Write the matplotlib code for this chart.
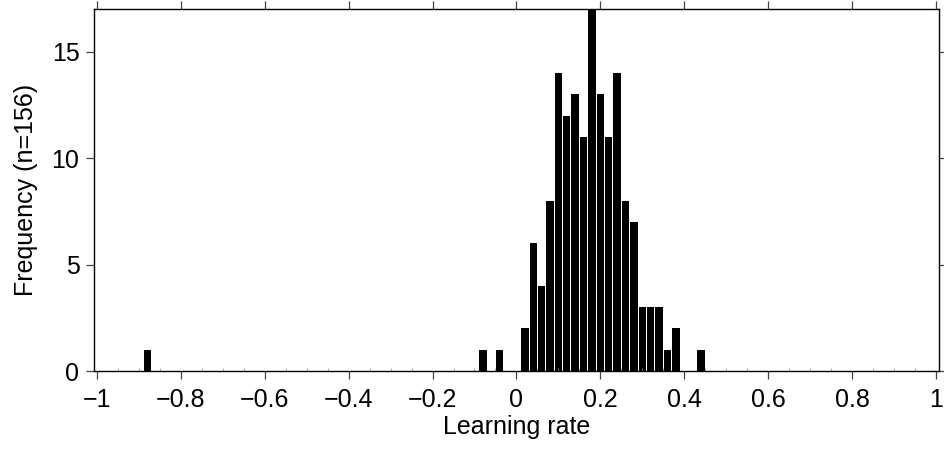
import numpy as np
import matplotlib
matplotlib.use("Agg")
import matplotlib.pyplot as plt
from matplotlib.ticker import MultipleLocator

# bin centres and counts
bin_centers = [-0.88, -0.08, -0.04, 0.02, 0.04, 0.06, 0.08, 0.10, 0.12, 0.14,
               0.16, 0.18, 0.20, 0.22, 0.24, 0.26, 0.28, 0.30, 0.32, 0.34,
               0.36, 0.38, 0.44]
counts = [1, 1, 1, 2, 6, 4, 8, 14, 12, 13,
          11, 17, 13, 11, 14, 8, 7, 3, 3, 3,
          1, 2, 1]
x_ticks = [-1, -0.8, -0.6, -0.4, -0.2, 0, 0.2, 0.4, 0.6, 0.8, 1]
x_labels = ["\u22121", "\u22120.8", "\u22120.6", "\u22120.4", "\u22120.2",
            "0", "0.2", "0.4", "0.6", "0.8", "1"]
y_ticks = [0, 5, 10, 15]

plt.rcParams["font.family"] = ["Liberation Sans", "DejaVu Sans"]

fig = plt.figure(figsize=(9.45, 4.53), dpi=100)
ax = fig.add_axes([0.0995, 0.181, 0.894, 0.799])

ax.bar(bin_centers, counts, width=0.0176, color="black", edgecolor="none")

ax.set_xlim(-1.007, 1.007)
ax.set_ylim(0, 17)
ax.set_xticks(x_ticks)
ax.set_xticklabels(x_labels)
ax.set_yticks(y_ticks)
ax.xaxis.set_minor_locator(MultipleLocator(0.05))

ax.tick_params(axis="both", which="major", direction="out", length=5.5,
               width=0.9, color="#444444", labelsize=18,
               top=True, right=True, labeltop=False, labelright=False)
ax.tick_params(axis="x", which="major", pad=7)
ax.tick_params(axis="y", which="major", pad=5)
ax.tick_params(axis="x", which="minor", direction="in", length=2,
               width=0.6, color="#999999", top=False, bottom=True)

for s in ax.spines.values():
    s.set_linewidth(1.0)
    s.set_color("black")

ax.set_xlabel("Learning rate", fontsize=18, labelpad=2)
ax.set_ylabel("Frequency (n=156)", fontsize=18, labelpad=10)

fig.savefig("out.png", dpi=100)
